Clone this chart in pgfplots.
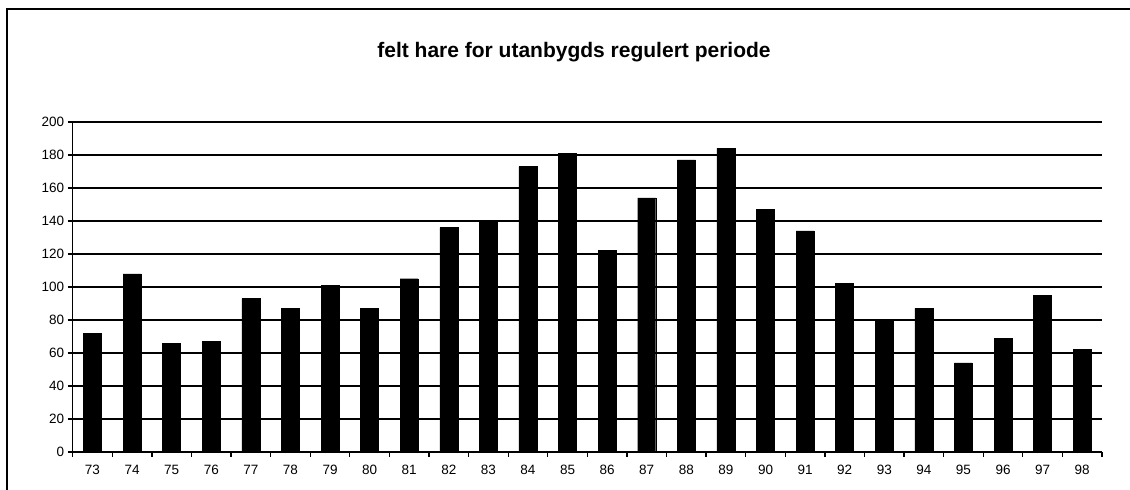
\documentclass[border=0pt]{standalone}
\usepackage{pgfplots}
\pgfplotsset{compat=1.18}
\usepackage{fontspec}
\setmainfont{Liberation Sans}
\begin{document}
\begin{tikzpicture}[x=1bp,y=1bp]
\path[use as bounding box] (0,0) rectangle (1130,490);
\draw[line width=2bp] (7,-20) -- (7,481) -- (1160,481);
\node[font=\bfseries\fontsize{21bp}{24bp}\selectfont] at (574,438) {felt hare for utanbygds regulert periode};
\begin{axis}[
  at={(72.7bp,38bp)}, anchor=south west,
  scale only axis, width=1029.3bp, height=330bp,
  xmin=72.5, xmax=98.5, ymin=0, ymax=200,
  ytick={0,20,...,200},
  xtick={72.5,73.5,...,98.5},
  x tick label as interval,
  xticklabels={73,74,75,76,77,78,79,80,81,82,83,84,85,86,87,88,89,90,91,92,93,94,95,96,97,98},
  axis x line*=bottom, axis y line*=left,
  axis line style={line width=1.5bp, black},
  tick align=outside,
  major tick length=5bp,
  tick style={black, line width=1.3bp},
  ymajorgrids,
  major grid style={black, line width=1.3bp},
  /pgf/number format/assume math mode=true,
  tick label style={font=\fontsize{13.5bp}{15bp}\selectfont},
  xticklabel style={yshift=-5bp},
  clip=false,
]
\addplot[ybar, fill=black, draw=black, bar width=18bp] coordinates {
(73,72) (74,108) (75,66) (76,67) (77,93) (78,87) (79,101) (80,87) (81,105)
(82,136) (83,140) (84,173) (85,181) (86,122) (87,154) (88,177) (89,184)
(90,147) (91,134) (92,102) (93,80) (94,87) (95,54) (96,69) (97,95) (98,62)
};
\end{axis}
\end{tikzpicture}
\end{document}
